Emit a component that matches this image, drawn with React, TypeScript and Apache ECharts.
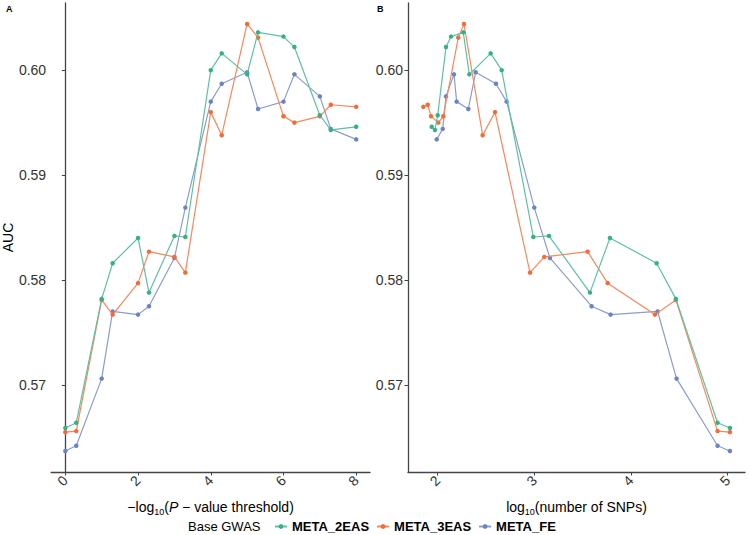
import React, { useEffect, useRef } from "react";
import * as echarts from "echarts";

// -log10(P-value threshold) for panel A
const xA = [0, 0.301, 1, 1.301, 2, 2.301, 3, 3.301, 4, 4.301, 5, 5.301, 6, 6.301, 7, 7.301, 8];

// AUC values per base GWAS
const auc2EAS = [0.5659, 0.5664, 0.5782, 0.5816, 0.584, 0.5788, 0.5842, 0.5841, 0.6, 0.6016, 0.5996, 0.6036, 0.6032, 0.6022, 0.5957, 0.5943, 0.5946];
const auc3EAS = [0.5655, 0.5656, 0.5781, 0.5767, 0.5797, 0.5827, 0.5822, 0.5807, 0.596, 0.5938, 0.6044, 0.6031, 0.5956, 0.595, 0.5956, 0.5967, 0.5965];
const aucFE = [0.5637, 0.5642, 0.5706, 0.577, 0.5767, 0.5775, 0.5821, 0.5869, 0.597, 0.5987, 0.5998, 0.5963, 0.597, 0.5996, 0.5975, 0.5944, 0.5934];

// log10(number of SNPs) for panel B
const snp2EAS = [5.023, 4.895, 4.464, 4.265, 3.782, 3.575, 3.151, 2.989, 2.662, 2.548, 2.327, 2.265, 2.138, 2.086, 2.0, 1.972, 1.938];
const snp3EAS = [5.023, 4.895, 4.464, 4.247, 3.758, 3.551, 3.103, 2.955, 2.593, 2.465, 2.272, 2.213, 2.058, 2.006, 1.931, 1.897, 1.851];
const snpFE = [5.023, 4.895, 4.471, 4.275, 3.789, 3.592, 3.161, 2.999, 2.713, 2.603, 2.393, 2.317, 2.196, 2.169, 2.086, 2.052, 1.99];

const seriesNames = ["META_2EAS", "META_3EAS", "META_FE"];
const yTicks = [0.57, 0.58, 0.59, 0.6];
const xTicksA = [0, 2, 4, 6, 8];
const xTicksB = [2, 3, 4, 5];

const FONT = "Liberation Sans, Arial, Helvetica, sans-serif";
const lineColors = ["#5cc39f", "#fb8659", "#8b9dcd"];
const pointColors = ["#38b087", "#f66a37", "#6c84c6"];
const AXIS = "#444";
const TXT = "#333";

export default function App() {
  const ref = useRef<HTMLDivElement>(null);
  useEffect(() => {
    if (!ref.current) return;
    const chart = echarts.init(ref.current, null, { renderer: "svg" });
    const aucs = [auc2EAS, auc3EAS, aucFE];
    const snps = [snp2EAS, snp3EAS, snpFE];

    const yAxisBase = (gridIndex: number, withName: boolean) => ({
      type: "value",
      gridIndex,
      min: 0.5617,
      max: 0.6064,
      splitLine: { show: false },
      axisLine: { show: true, lineStyle: { color: AXIS, width: 1.3 } },
      axisTick: { show: true, length: 3.5, lineStyle: { color: AXIS }, customValues: yTicks },
      axisLabel: {
        color: TXT,
        fontSize: 14,
        fontFamily: FONT,
        margin: 5,
        customValues: yTicks,
        formatter: (v: number) => v.toFixed(2),
      },
      name: withName ? "AUC" : "",
      nameLocation: "middle",
      nameGap: 36,
      nameTextStyle: { color: "#000", fontSize: 14, fontFamily: FONT },
    });

    const xAxisBase = (gridIndex: number, min: number, max: number, ticks: number[], name: string) => ({
      type: "value",
      gridIndex,
      min,
      max,
      splitLine: { show: false },
      axisLine: { show: true, lineStyle: { color: AXIS, width: 1.3 } },
      axisTick: { show: true, length: 3.5, lineStyle: { color: AXIS }, customValues: ticks },
      axisLabel: {
        color: TXT,
        fontSize: 14,
        fontFamily: FONT,
        rotate: 45,
        margin: 6,
        customValues: ticks,
      },
      name,
      nameLocation: "middle",
      nameGap: 26,
      nameTextStyle: {
        color: "#000",
        fontFamily: FONT,
        rich: {
          a: { fontSize: 14, lineHeight: 18, fontFamily: FONT, color: "#000" },
          i: { fontSize: 14, lineHeight: 18, fontFamily: FONT, fontStyle: "italic", color: "#000" },
          s: { fontSize: 9, lineHeight: 9, verticalAlign: "bottom", fontFamily: FONT, color: "#000" },
        },
      },
    });

    const series: any[] = [];
    seriesNames.forEach((name, k) => {
      const common = {
        name,
        type: "line",
        symbol: "circle",
        symbolSize: 4.5,
        lineStyle: { width: 1.2, color: lineColors[k] },
        itemStyle: { color: pointColors[k] },
        z: 3 - k,
      };
      series.push({
        ...common,
        xAxisIndex: 0,
        yAxisIndex: 0,
        data: xA.map((x, i) => [x, aucs[k][i]]),
      });
      series.push({
        ...common,
        xAxisIndex: 1,
        yAxisIndex: 1,
        data: snps[k].map((x, i) => [x, aucs[k][i]]),
      });
    });

    chart.setOption({
      animation: false,
      grid: [
        { left: 48, top: 3, width: 322, height: 469 },
        { left: 408, top: 3, width: 337, height: 469 },
      ],
      xAxis: [
        xAxisBase(0, -0.39, 8.38, xTicksA, "{a|−log}{s|10}{a|(}{i|P}{a| − value threshold)}"),
        xAxisBase(1, 1.693, 5.179, xTicksB, "{a|log}{s|10}{a|(number of SNPs)}"),
      ],
      yAxis: [yAxisBase(0, true), yAxisBase(1, false)],
      legend: {
        data: seriesNames,
        left: 269,
        top: 515,
        itemWidth: 12,
        itemHeight: 6,
        itemGap: 7,
        textStyle: { fontSize: 13, fontWeight: "bold", fontFamily: FONT, color: "#000" },
      },
      graphic: [
        {
          type: "text",
          left: 188,
          top: 520,
          style: { text: "Base GWAS", fontSize: 13, fontFamily: FONT, fill: "#000" },
        },
        {
          type: "text",
          left: 6,
          top: 4,
          style: { text: "A", fontSize: 9, fontWeight: "bold", fontFamily: FONT, fill: "#000" },
        },
        {
          type: "text",
          left: 377,
          top: 4,
          style: { text: "B", fontSize: 9, fontWeight: "bold", fontFamily: FONT, fill: "#000" },
        },
      ],
      series,
    });
    return () => chart.dispose();
  }, []);
  return (
    <div
      ref={ref}
      style={{ position: "absolute", left: 0, top: 0, width: 749, height: 535, background: "#fff" }}
    />
  );
}
